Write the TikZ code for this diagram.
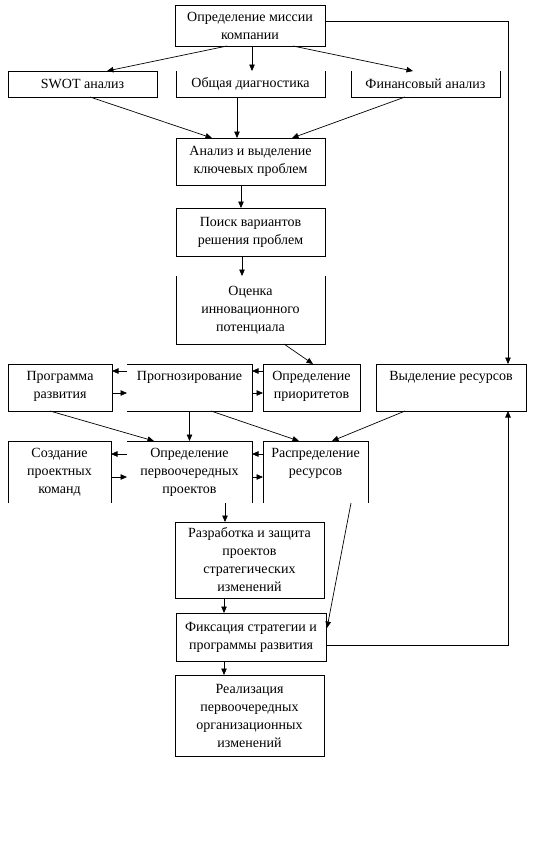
\documentclass[tikz,border=0pt]{standalone}
\usepackage{fontspec}
\setmainfont{Liberation Serif}
\usetikzlibrary{arrows.meta,calc}
\newcommand\ctext[3]{\parbox[c][#2pt][c]{#1pt}{\centering #3\par}}
\newcommand\ttext[3]{\parbox[c][#2pt][t]{#1pt}{\centering\vspace*{4pt}\strut #3\par}}
\begin{document}
\begin{tikzpicture}[x=1pt,y=-1pt,
  font=\fontsize{14}{18}\selectfont,
  box/.style={inner sep=0pt, outer sep=0pt},
  full/.style={box, draw, line width=0.8pt},
  side/.style={line width=0.8pt},
  arr/.style={line width=0.7pt, -{Triangle[length=6.5pt,width=5.5pt]}},
  con/.style={line width=0.7pt}]
\useasboundingbox (0,0) rectangle (543,847);
% nodes
\node[full] (mission) at (250,25.5) {\ctext{150}{41}{Определение миссии\\компании}};
\node[full] (swot) at (82.5,84) {\ctext{149}{26}{SWOT анализ}};
\node[box] (diag) at (250.5,84) {\ctext{149}{26}{Общая диагностика}};
\node[box] (fin) at (425.5,84) {\ctext{149}{26}{Финансовый анализ}};
\node[full] (anal) at (250.5,161.5) {\ctext{149}{47}{Анализ и выделение\\ключевых проблем}};
\node[full] (poisk) at (250.5,232) {\ctext{149}{48}{Поиск вариантов\\решения проблем}};
\node[box] (ocenka) at (250.5,310) {\ctext{149}{68}{Оценка\\инновационного\\потенциала}};
\node[full] (prog) at (60,387.5) {\ttext{104}{47}{Программа\\развития}};
\node[box] (forecast) at (189.5,387.5) {\ttext{125}{47}{Прогнозирование}};
\node[full] (prior) at (311.5,387.5) {\ttext{97}{47}{Определение\\приоритетов}};
\node[full] (res) at (451,387.5) {\ttext{150}{47}{Выделение ресурсов}};
\node[box] (team) at (59.5,472) {\ttext{103}{62}{Создание\\проектных\\команд}};
\node[box] (first) at (189.5,472) {\ttext{125}{62}{Определение\\первоочередных\\проектов}};
\node[box] (distr) at (315.5,472) {\ttext{105}{62}{Распределение\\ресурсов}};
\node[full] (dev) at (249.5,560) {\ctext{149}{76}{Разработка и защита\\проектов\\стратегических\\изменений}};
\node[full] (fix) at (251,637) {\ctext{150}{48}{Фиксация стратегии и\\программы развития}};
\node[full] (impl) at (249.5,715.5) {\ctext{149}{81}{Реализация\\первоочередных\\организационных\\изменений}};
% partial box sides
\draw[side] (diag.north west) -- (diag.south west) -- (diag.south east) -- (diag.north east);
\draw[side] (fin.north west) -- (fin.south west) -- (fin.south east) -- (fin.north east);
\draw[side] (ocenka.north west) -- (ocenka.south west) -- (ocenka.south east) -- (ocenka.north east);
\draw[side] (forecast.north west) -- (forecast.north east) -- (forecast.south east) -- (forecast.south west);
\draw[side] (team.south west) -- (team.north west) -- (team.north east) -- (team.south east);
\draw[side] (first.north west) -- (first.north east) -- (first.south east);
\draw[side] (distr.south west) -- (distr.north west) -- (distr.north east) -- (distr.south east);
% connectors
\draw[arr] ($(mission.south)+(-23,0)$) -- ($(swot.north)+(24.5,0)$);
\draw[arr] ($(mission.south)+(2,0)$) -- ($(diag.north)+(1.5,0)$);
\draw[arr] ($(mission.south)+(43,0)$) -- ($(fin.north)+(-12.5,0)$);
\draw[arr] ($(swot.south)+(7.5,0)$) -- ($(anal.north)+(-38.5,0)$);
\draw[arr] ($(diag.south)+(-13.5,0)$) -- ($(anal.north)+(-13.5,0)$);
\draw[arr] ($(fin.south)+(-20.5,0)$) -- ($(anal.north)+(41.5,0)$);
\draw[arr] ($(anal.south)+(-9.5,0)$) -- ($(poisk.north)+(-9.5,0)$);
\draw[arr] ($(poisk.south)+(-8.5,0)$) -- ($(ocenka.north)+(-8.5,0)$);
\draw[arr] ($(ocenka.south)+(33.5,0)$) -- ($(prior.north)+(1.5,0)$);
\draw[arr] ($(mission.east)+(0,-4.5)$) -| ($(res.north)+(57,0)$);
\draw[arr] ($(forecast.west)+(0,-16.5)$) -- ($(prog.east)+(0,-16.5)$);
\draw[arr] ($(prog.east)+(0,5.5)$) -- ($(forecast.west)+(0,5.5)$);
\draw[arr] ($(prior.west)+(0,-16.5)$) -- ($(forecast.east)+(0,-16.5)$);
\draw[arr] ($(forecast.east)+(0,5.5)$) -- ($(prior.west)+(0,5.5)$);
\draw[arr] ($(prog.south)+(-10,0)$) -- ($(first.north)+(-35.5,0)$);
\draw[arr] (forecast.south) -- (first.north);
\draw[arr] ($(forecast.south)+(21.5,0)$) -- ($(distr.north)+(-16.5,0)$);
\draw[arr] ($(res.south)+(-46,0)$) -- ($(distr.north)+(16.5,0)$);
\draw[arr] ($(first.west)+(0,-18)$) -- ($(team.east)+(0,-18)$);
\draw[arr] ($(team.east)+(0,5)$) -- ($(first.west)+(0,5)$);
\draw[arr] ($(distr.west)+(0,-18)$) -- ($(first.east)+(0,-18)$);
\draw[arr] ($(first.east)+(0,5)$) -- ($(distr.west)+(0,5)$);
\draw[arr] ($(first.south)+(35.5,0)$) -- ($(dev.north)+(-24.5,0)$);
\draw[arr] ($(dev.south)+(-25.5,0)$) -- ($(fix.north)+(-27,0)$);
\draw[arr] ($(fix.south)+(-27,0)$) -- ($(impl.north)+(-25.5,0)$);
\draw[arr] ($(distr.south)+(35.5,0)$) -- ($(fix.east)+(1,-9)$);
\draw[arr] ($(fix.east)+(0,8)$) -| ($(res.south)+(57,0)$);
\end{tikzpicture}
\end{document}
